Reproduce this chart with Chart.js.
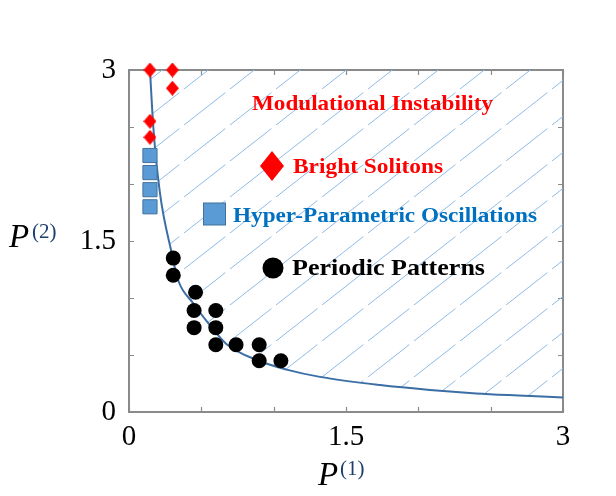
<!DOCTYPE html>
<html><head><meta charset="utf-8">
<script src="https://cdn.jsdelivr.net/npm/chart.js@4"></script>
<style>html,body{margin:0;padding:0;background:#fff}#wrap{width:616px;height:496px;position:relative}</style>
</head><body><div id="wrap"><canvas id="c" width="616" height="496"></canvas></div>
<script>
// ---- data ----
const boundaryX = [0.145,0.168,0.214,0.295,0.339,0.444,0.56,0.675,0.883,1.09,1.32,1.735,2.08,2.40,2.69,3.0];
const boundaryY = [3.0,2.50,1.92,1.395,1.158,0.954,0.76,0.595,0.456,0.372,0.308,0.236,0.193,0.163,0.145,0.128];
const solitonX = [0.145,0.30,0.30,0.145,0.145];
const solitonY = [3.0,3.0,2.84,2.55,2.41];
const hpoX = [0.145,0.145,0.145,0.145];
const hpoY = [2.25,2.10,1.95,1.80];
const periodicX = [0.306,0.306,0.46,0.45,0.60,0.45,0.60,0.60,0.74,0.90,0.90,1.05];
const periodicY = [1.35,1.20,1.05,0.89,0.89,0.74,0.74,0.59,0.59,0.59,0.45,0.45];
const xTickLabels = ['0','1.5','3'];
const yTickLabels = ['0','1.5','3'];
const regionLabel = 'Modulational Instability';
const seriesNames = ['Bright Solitons','Hyper-Parametric Oscillations','Periodic Patterns'];

const zip = (xs, ys) => xs.map((x,i)=>({x, y: ys[i]}));

function diamondImg(w, h, color){
  const c = document.createElement('canvas'); c.width = w; c.height = h;
  const g = c.getContext('2d');
  g.fillStyle = color; g.beginPath();
  g.moveTo(w/2,0); g.lineTo(w,h/2); g.lineTo(w/2,h); g.lineTo(0,h/2); g.closePath(); g.fill();
  return c;
}

const ctx = document.getElementById('c').getContext('2d');
function hatch(){
  const w = 46, h = 36;
  const c = document.createElement('canvas'); c.width = w; c.height = h;
  const g = c.getContext('2d');
  g.strokeStyle = '#8dbbe6'; g.lineWidth = 1;
  g.beginPath();
  g.moveTo(-w*0.02, h*1.02); g.lineTo(w*0.9, h*0.1);
  g.stroke();
  const p = ctx.createPattern(c, 'repeat');
  try { p.setTransform(new DOMMatrix().translate(0, 17)); } catch(e) {}
  return p;
}

const SERIF = '"Liberation Serif", "DejaVu Serif", serif';

const framePlugin = {
  id: 'frame',
  beforeDatasetsDraw(chart){
    const {ctx, chartArea: a, scales: {x, y}} = chart;
    ctx.save();
    ctx.strokeStyle = '#8a8a8a'; ctx.lineWidth = 2;
    ctx.strokeRect(a.left, a.top, a.right - a.left, a.bottom - a.top);
    ctx.lineWidth = 1.2;
    const tl = 5;
    ctx.beginPath();
    x.ticks.forEach(t => {
      const px = Math.round(x.getPixelForValue(t.value)) + 0.5;
      ctx.moveTo(px, a.bottom); ctx.lineTo(px, a.bottom - tl);
      ctx.moveTo(px, a.top); ctx.lineTo(px, a.top + tl);
    });
    y.ticks.forEach(t => {
      const py = Math.round(y.getPixelForValue(t.value)) + 0.5;
      ctx.moveTo(a.left, py); ctx.lineTo(a.left + tl, py);
      ctx.moveTo(a.right, py); ctx.lineTo(a.right - tl, py);
    });
    ctx.stroke();
    ctx.restore();
  },
  afterDraw(chart){
    const {ctx} = chart;
    ctx.save();
    ctx.textBaseline = 'alphabetic'; ctx.textAlign = 'left';
    function fitText(str, x, yb, w, size, color){
      ctx.font = 'bold ' + size + 'px ' + SERIF;
      const m = ctx.measureText(str).width;
      ctx.save();
      ctx.translate(x, yb); ctx.scale(w / m, 1);
      ctx.fillStyle = color; ctx.fillText(str, 0, 0);
      ctx.restore();
    }
    fitText(regionLabel, 252, 110, 241, 21, '#ff0000');
    const d = diamondImg(24, 30, '#ff0000');
    ctx.drawImage(d, 272 - 12, 166 - 15);
    fitText(seriesNames[0], 293, 173, 150, 21, '#ff0000');
    ctx.fillStyle = '#5b9bd5'; ctx.strokeStyle = '#41719c'; ctx.lineWidth = 1;
    ctx.fillRect(203.5, 203, 22, 22); ctx.strokeRect(203.5, 203, 22, 22);
    fitText(seriesNames[1], 233, 222, 304, 20, '#0070c0');
    ctx.fillStyle = '#000'; ctx.beginPath(); ctx.arc(273, 268, 10.5, 0, Math.PI*2); ctx.fill();
    fitText(seriesNames[2], 292, 275, 193, 24, '#000000');

    // axis titles
    ctx.fillStyle = '#000';
    ctx.font = 'italic 33px ' + SERIF;
    ctx.fillText('P', 318, 485);
    ctx.font = '21px ' + SERIF;
    ctx.fillStyle = '#1c3d70';
    ctx.fillText('(1)', 340, 475);
    ctx.fillStyle = '#000';
    ctx.font = 'italic 33px ' + SERIF;
    ctx.fillText('P', 9, 247);
    ctx.font = '21px ' + SERIF;
    ctx.fillStyle = '#1c3d70';
    ctx.fillText('(2)', 32, 238);
    ctx.restore();
  }
};

const fmt = v => String(Math.round(v * 100) / 100);

new Chart(ctx, {
  type: 'scatter',
  data: {
    datasets: [
      { label: 'boundary', type: 'line', data: zip(boundaryX, boundaryY), showLine: true,
        borderColor: '#3b6ea5', borderWidth: 2, pointRadius: 0, tension: 0.4,
        cubicInterpolationMode: 'monotone', fill: 'end', backgroundColor: hatch(), order: 10, clip: false },
      { label: seriesNames[0], data: zip(solitonX, solitonY), pointStyle: diamondImg(13, 15, '#ff0000'),
        order: 1, clip: false },
      { label: seriesNames[1], data: zip(hpoX, hpoY), pointStyle: 'rect', pointRadius: 10,
        backgroundColor: '#5b9bd5', borderColor: '#41719c', borderWidth: 1, order: 2, clip: false },
      { label: seriesNames[2], data: zip(periodicX, periodicY), pointStyle: 'circle', pointRadius: 7.5,
        backgroundColor: '#000', borderColor: '#000', borderWidth: 0, order: 0, clip: false }
    ]
  },
  options: {
    responsive: false, animation: false, devicePixelRatio: 1,
    layout: { padding: { left: 0, top: 70, right: 53, bottom: 0 } },
    plugins: { legend: { display: false }, tooltip: { enabled: false } },
    elements: { point: { hoverRadius: 0 } },
    scales: {
      x: { type: 'linear', min: 0, max: 3,
        ticks: { stepSize: 0.5, autoSkip: false, maxRotation: 0, padding: 8, color: '#000',
          font: { family: SERIF, size: 29 },
          callback: v => xTickLabels.includes(fmt(v)) ? fmt(v) : '' },
        grid: { display: false, drawTicks: false }, border: { display: false },
        afterFit: s => { s.height = 84; } },
      y: { type: 'linear', min: 0, max: 3,
        ticks: { stepSize: 0.5, autoSkip: false, padding: 13, color: '#000',
          font: { family: SERIF, size: 29 },
          callback: v => yTickLabels.includes(fmt(v)) ? fmt(v) : '' },
        grid: { display: false, drawTicks: false }, border: { display: false },
        afterFit: s => { s.width = 129; } }
    }
  },
  plugins: [framePlugin]
});
</script>
</body></html>
